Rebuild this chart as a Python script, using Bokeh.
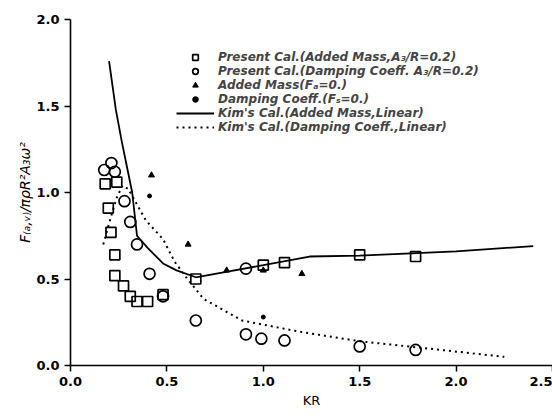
from bokeh.plotting import figure
from bokeh.models import Legend, LegendItem, Range1d, FixedTicker, NumeralTickFormatter
from bokeh.embed import file_html
from bokeh.resources import INLINE

# Present calculation, added mass (squares)
sq_kr = [0.18, 0.24, 0.196, 0.21, 0.23, 0.23, 0.275, 0.31, 0.345, 0.40, 0.48, 0.65, 1.00, 1.11, 1.50, 1.79]
sq_val = [1.05, 1.06, 0.91, 0.77, 0.64, 0.52, 0.46, 0.40, 0.37, 0.37, 0.41, 0.50, 0.58, 0.595, 0.64, 0.63]

# Present calculation, damping coefficient (circles)
ci_kr = [0.175, 0.212, 0.23, 0.28, 0.31, 0.345, 0.41, 0.48, 0.65, 0.91, 0.91, 0.99, 1.11, 1.50, 1.79]
ci_val = [1.13, 1.17, 1.12, 0.95, 0.83, 0.70, 0.53, 0.40, 0.26, 0.56, 0.18, 0.155, 0.145, 0.11, 0.09]

# Added mass (F=0) triangles
tr_kr = [0.42, 0.61, 0.81, 1.00, 1.20]
tr_val = [1.10, 0.70, 0.55, 0.55, 0.53]

# Damping coeff (F=0) dots
dt_kr = [0.41, 1.00]
dt_val = [0.98, 0.28]

# Kim's calculation, added mass, linear
kam_kr = [0.20, 0.235, 0.265, 0.32, 0.345, 0.40, 0.48, 0.55, 0.65, 0.80, 1.00, 1.24, 1.50, 2.00, 2.40]
kam_val = [1.76, 1.48, 1.30, 1.00, 0.75, 0.68, 0.59, 0.55, 0.51, 0.54, 0.58, 0.63, 0.635, 0.66, 0.69]

# Kim's calculation, damping coefficient, linear
kdc_kr = [0.17, 0.21, 0.24, 0.27, 0.30, 0.39, 0.48, 0.54, 0.60, 0.69, 0.89, 1.19, 1.50, 1.84, 2.25]
kdc_val = [0.70, 0.86, 0.97, 1.04, 1.02, 0.84, 0.73, 0.60, 0.51, 0.385, 0.26, 0.195, 0.14, 0.10, 0.05]

x_ticks = [0.0, 0.5, 1.0, 1.5, 2.0, 2.5]
y_ticks = [0.0, 0.5, 1.0, 1.5, 2.0]

FONT = "DejaVu Sans"

p = figure(width=552, height=410, x_range=Range1d(0, 2.5), y_range=Range1d(0, 2.0),
           output_backend="svg", toolbar_location=None,
           min_border_left=70, min_border_top=19, min_border_right=0, min_border_bottom=43)
p.outline_line_color = None
p.grid.visible = False
p.background_fill_color = "white"

for ax, ticks in ((p.xaxis, x_ticks), (p.yaxis, y_ticks)):
    ax.ticker = FixedTicker(ticks=ticks)
    ax.formatter = NumeralTickFormatter(format="0.0")
    ax.major_tick_out = 6
    ax.major_tick_in = 0
    ax.minor_tick_line_color = None
    ax.axis_line_width = 1.6
    ax.axis_line_color = "black"
    ax.major_tick_line_width = 1.5
    ax.major_tick_line_color = "black"
    ax.major_label_text_font = FONT
    ax.major_label_text_font_size = "13px"
    ax.major_label_text_font_style = "bold"
    ax.major_label_text_color = "black"
    ax.axis_label_text_color = "black"
    ax.axis_label_text_font = FONT

p.xaxis.axis_label = "KR"
p.xaxis.axis_label_text_font_size = "13px"
p.xaxis.axis_label_text_font_style = "normal"
p.xaxis.axis_label_standoff = 4
p.yaxis.axis_label = "F₍ₐ,ᵥ₎/πρR²A₃ω²"
p.yaxis.axis_label_text_font_size = "14px"
p.yaxis.axis_label_text_font_style = "italic"
p.yaxis.axis_label_standoff = 0

r_kam = p.line(kam_kr, kam_val, line_color="black", line_width=1.8)
r_kdc = p.line(kdc_kr, kdc_val, line_color="black", line_width=2, line_dash="2 4")
r_sq = p.scatter(sq_kr, sq_val, marker="square", size=10, fill_color="white", fill_alpha=0,
                 line_color="black", line_width=1.7)
r_ci = p.scatter(ci_kr, ci_val, marker="circle", size=11, fill_color="white", fill_alpha=0,
                 line_color="black", line_width=1.7)
r_tr = p.scatter(tr_kr, tr_val, marker="triangle", size=6, fill_color="black", line_color="black")
r_dt = p.scatter(dt_kr, dt_val, marker="circle", size=4, fill_color="black", line_color="black")

legend = Legend(items=[
    LegendItem(label="Present Cal.(Added Mass,A₃/R=0.2)", renderers=[r_sq]),
    LegendItem(label="Present Cal.(Damping Coeff. A₃/R=0.2)", renderers=[r_ci]),
    LegendItem(label="Added Mass(Fₐ=0.)", renderers=[r_tr]),
    LegendItem(label="Damping Coeff.(Fₛ=0.)", renderers=[r_dt]),
    LegendItem(label="Kim's Cal.(Added Mass,Linear)", renderers=[r_kam]),
    LegendItem(label="Kim's Cal.(Damping Coeff.,Linear)", renderers=[r_kdc]),
], location=(106, 231), border_line_color=None, background_fill_alpha=0,
    label_text_font=FONT, label_text_font_size="12px", label_text_font_style="bold italic",
    glyph_width=38, glyph_height=14, label_height=14, spacing=0, padding=0, margin=0,
    label_standoff=4)
p.add_layout(legend)

open("out.html", "w").write(file_html(p, INLINE))
